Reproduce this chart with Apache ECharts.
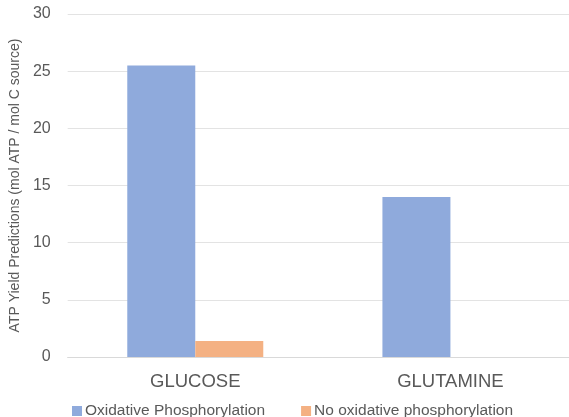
<!DOCTYPE html>
<html>
<head>
<meta charset="utf-8">
<script src="https://cdn.jsdelivr.net/npm/echarts@6/dist/echarts.min.js"></script>
<style>
  html, body { margin: 0; padding: 0; background: #fff; overflow: hidden; }
  #chart { width: 600px; height: 417px; }
</style>
</head>
<body>
<div id="chart"></div>
<script>
// Carbon sources and predicted ATP yields
const categories = ['GLUCOSE', 'GLUTAMINE'];
const seriesNames = ['Oxidative Phosphorylation', 'No oxidative phosphorylation'];
const oxphosValues = [25.5, 14];
const noOxphosValues = [1.4, 0];
const yTicks = [0, 5, 10, 15, 20, 25, 30];

const textColor = '#595959';
const font = 'Liberation Sans, Arial, sans-serif';

const chart = echarts.init(document.getElementById('chart'));
chart.setOption({
  animation: false,
  backgroundColor: '#fff',
  grid: { left: 62, width: 516, top: 14, bottom: 60, containLabel: false },
  legend: {
    data: seriesNames,
    left: 67,
    top: 398,
    itemWidth: 10,
    itemHeight: 10,
    itemGap: 36,
    icon: 'rect',
    textStyle: { color: textColor, fontSize: 15.5, fontFamily: font, padding: [0, 0, 0, -2] }
  },
  xAxis: {
    type: 'category',
    data: categories,
    axisLine: { lineStyle: { color: '#d9d9d9', width: 1 } },
    axisTick: { show: false },
    axisLabel: { color: textColor, fontSize: 18.5, fontFamily: font, margin: 15 }
  },
  yAxis: {
    type: 'value',
    min: yTicks[0],
    max: yTicks[yTicks.length - 1],
    interval: 5,
    name: 'ATP Yield Predictions (mol ATP / mol C source)',
    nameLocation: 'middle',
    nameGap: 34,
    nameTextStyle: { color: textColor, fontSize: 14, fontFamily: font },
    axisLine: { show: false },
    axisTick: { show: false },
    axisLabel: { color: textColor, fontSize: 16, fontFamily: font, margin: 17 },
    splitLine: { lineStyle: { color: '#e3e3e3', width: 1 } }
  },
  series: [
    {
      name: seriesNames[0],
      type: 'bar',
      data: oxphosValues,
      barWidth: 68,
      barGap: '0%',
      itemStyle: { color: '#8FAADC' }
    },
    {
      name: seriesNames[1],
      type: 'bar',
      data: noOxphosValues,
      barWidth: 68,
      barGap: '0%',
      itemStyle: { color: '#F4B183' }
    }
  ]
});
</script>
</body>
</html>
